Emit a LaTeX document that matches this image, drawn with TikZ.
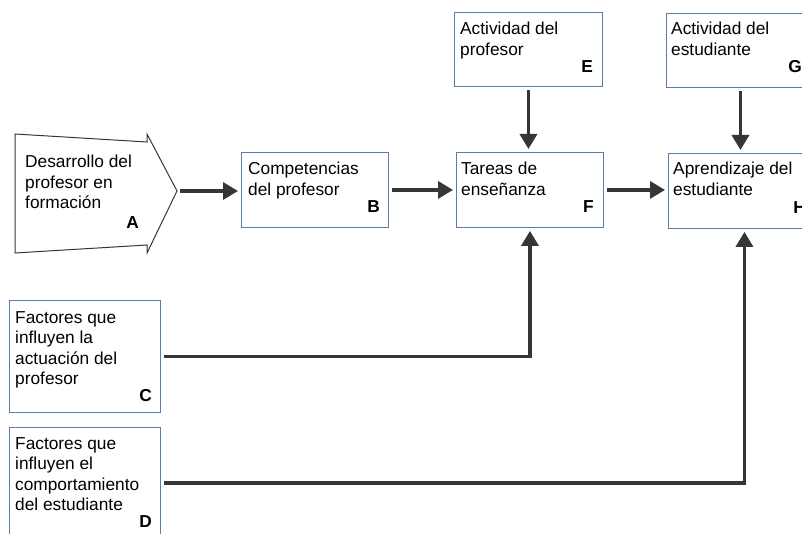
\documentclass[tikz,border=0pt]{standalone}
\usepackage{fontspec}
\setmainfont{Liberation Sans}
\usetikzlibrary{arrows.meta}
\definecolor{cajaborde}{HTML}{5A7BAA}
\definecolor{flechagris}{HTML}{363636}
\tikzset{
  caja/.style={draw=cajaborde, line width=0.9pt, inner sep=0pt, anchor=north west},
  texto/.style={inner sep=0pt, anchor=north west, align=left, font=\fontsize{17.3}{20.5}\selectfont},
  letra/.style={inner sep=0pt, anchor=base east, font=\fontsize{17.3}{20.5}\selectfont\bfseries},
  flecha/.style={draw=flechagris, line width=3.4pt, -{Triangle[length=15pt,width=17pt]}, shorten <=3pt, shorten >=3pt}
}
\begin{document}
\begin{tikzpicture}[x=1pt,y=-1pt]
\useasboundingbox (0,0) rectangle (802,534);
% bloque A con forma de flecha
\draw[draw=flechagris, line width=1pt] (15,134) -- (147,142) -- (147,134) -- (177,191) -- (147,253) -- (147,245) -- (15,253) -- cycle;
\coordinate (Apunta) at (177,191);
\node[texto] (Atxt) at (25,155) {Desarrollo del\\profesor en\\formación};
\node[letra] (Al) at (139,229) {A};
% cajas
\node[caja, minimum width=147pt, minimum height=75pt] (B) at (241,152) {};
\node[caja, minimum width=148pt, minimum height=74pt] (E) at (454,12) {};
\node[caja, minimum width=147pt, minimum height=75pt] (F) at (456,152) {};
\node[caja, minimum width=148pt, minimum height=74pt] (G) at (666,13) {};
\node[caja, minimum width=152pt, minimum height=75pt] (H) at (668,153) {};
\node[caja, minimum width=151pt, minimum height=112pt] (C) at (9,300) {};
\node[caja, minimum width=151pt, minimum height=111pt] (D) at (9,427) {};
% textos
\node[texto] (Btxt) at (248,162) {Competencias\\del profesor};
\node[texto] (Etxt) at (460,22) {Actividad del\\profesor};
\node[texto] (Ftxt) at (461,162) {Tareas de\\enseñanza};
\node[texto] (Gtxt) at (671,22) {Actividad del\\estudiante};
\node[texto] (Htxt) at (673,162) {Aprendizaje del\\estudiante};
\node[texto] (Ctxt) at (15,311) {Factores que\\influyen la\\actuación del\\profesor};
\node[texto] (Dtxt) at (15,437) {Factores que\\influyen el\\comportamiento\\del estudiante};
% letras
\node[letra] (Bl) at (380,213) {B};
\node[letra] (El) at (593,73) {E};
\node[letra] (Fl) at (594,213) {F};
\node[letra] (Gl) at (802,73) {G};
\node[letra] (Hl) at (806,214) {H};
\node[letra] (Cl) at (152,401) {C};
\node[letra] (Dl) at (152,527) {D};
% flechas
\draw[flecha] (Apunta) -- (Apunta -| B.west);
\draw[flecha] (B.east) -- (B.east -| F.west);
\draw[flecha] (F.east) -- (F.east -| H.west);
\draw[flecha] (E.south) -- (E.south |- F.north);
\draw[flecha] (G.south) -- (G.south |- H.north);
\draw[flecha] (C.east) -| (F.south);
\draw[flecha] (D.east) -| (H.south);
\end{tikzpicture}
\end{document}
